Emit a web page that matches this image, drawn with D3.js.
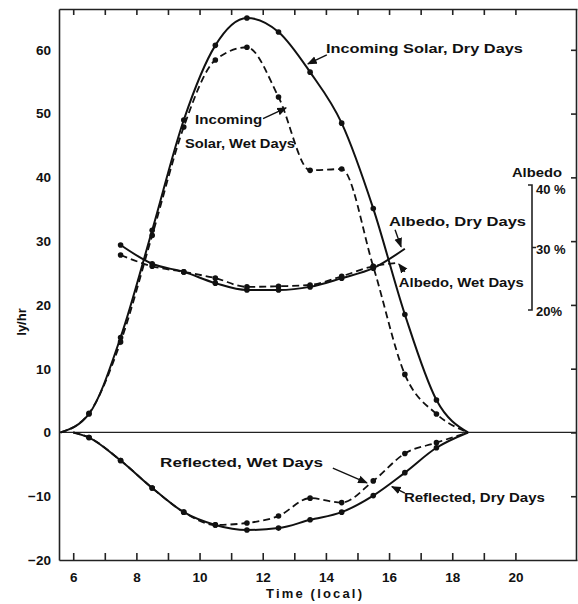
<!DOCTYPE html>
<html>
<head>
<meta charset="utf-8">
<script src="https://cdn.jsdelivr.net/npm/d3@7"></script>
<style>
  body { margin: 0; background: #fff; }
  text { font-family: "Liberation Sans", Arial, sans-serif; font-weight: bold; fill: #111; }
</style>
</head>
<body>
<svg width="578" height="604"></svg>
<script>
// hours (local time)
const hours = [6.5, 7.5, 8.5, 9.5, 10.5, 11.5, 12.5, 13.5, 14.5, 15.5, 16.5, 17.5];

// incoming solar, ly/hr
const incomingDry = [2.9, 14.9, 31.7, 49.0, 60.7, 65.0, 62.8, 56.5, 48.5, 35.1, 18.5, 5.1];
const incomingWet = [3.0, 14.2, 30.9, 47.9, 58.4, 60.4, 52.6, 41.1, 41.3, 26.0, 9.1, 2.9];

// reflected, ly/hr
const reflectedDry = [-0.8, -4.4, -8.7, -12.5, -14.5, -15.3, -15.0, -13.7, -12.5, -9.9, -6.3, -2.4];
const reflectedWet = [-0.8, -4.4, -8.7, -12.5, -14.5, -14.2, -13.1, -10.3, -11.0, -7.6, -3.3, -1.6];

// albedo, percent
const albedoHoursDry = [7.5, 8.5, 9.5, 10.5, 11.5, 12.5, 13.5, 14.5, 15.5, 16.5];
const albedoDry = [30.4, 27.4, 26.1, 24.3, 23.2, 23.2, 23.7, 25.1, 26.7, 29.8];
const albedoHoursWet = [7.5, 8.5, 9.5, 10.5, 11.5, 12.5, 13.5, 14.5, 15.5, 16.2];
const albedoWet = [28.8, 27.0, 26.1, 25.1, 23.7, 23.8, 24.0, 25.4, 27.0, 27.5];

const yTicks = [-20, -10, 0, 10, 20, 30, 40, 50, 60];
const xTicks = [6, 7, 8, 9, 10, 11, 12, 13, 14, 15, 16, 17, 18, 19, 20];
const albedoTicks = [20, 30, 40];

const svg = d3.select("svg");

const x = d3.scaleLinear().domain([5.55, 21.95]).range([59, 577]);
const y = d3.scaleLinear().domain([-20, 66.4]).range([560, 9]);
const a = d3.scaleLinear().domain([20, 40]).range([y(19.2), y(38.8)]);

// frame + axes
svg.append("g")
    .attr("transform", `translate(0,${y(-20)})`)
    .call(d3.axisBottom(x).tickValues(xTicks).tickSize(-7).tickSizeOuter(0)
        .tickPadding(12).tickFormat(d => d % 2 === 0 ? d : ""));
svg.append("g")
    .attr("transform", `translate(0,${y(66.4)})`)
    .call(d3.axisTop(x).tickValues(xTicks).tickSize(-6).tickSizeOuter(0).tickFormat(""));
svg.append("g")
    .attr("transform", `translate(${x(5.55)},0)`)
    .call(d3.axisLeft(y).tickValues(yTicks).tickSize(0).tickPadding(8));
svg.append("g")
    .attr("transform", `translate(${x(21.95) - 1},0)`)
    .call(d3.axisRight(y).tickValues(yTicks.slice(1)).tickSize(-5).tickSizeOuter(0).tickFormat(""));

svg.selectAll(".domain, .tick line").attr("stroke", "#222").attr("stroke-width", 1.6);
svg.selectAll(".tick text").style("font-size", "13.5px");

// zero line
svg.append("line")
    .attr("x1", x(5.55)).attr("x2", x(21.95))
    .attr("y1", y(0)).attr("y2", y(0))
    .attr("stroke", "#222").attr("stroke-width", 1.2);

// series
const line = d3.line().curve(d3.curveMonotoneX).x(d => x(d[0])).y(d => d[1]);

function series(xs, ys, scale, start, end) {
    let pts = xs.map((h, i) => [h, scale(ys[i])]);
    if (start) pts.unshift([start, scale(0)]);
    if (end) pts.push([end, scale(0)]);
    return pts;
}

const curves = [
    { pts: series(hours, incomingDry, y, 5.6, 18.5), dash: null, dots: hours.map((h, i) => [h, y(incomingDry[i])]) },
    { pts: series(hours, incomingWet, y, 5.6, 18.5), dash: "7,4", dots: hours.map((h, i) => [h, y(incomingWet[i])]) },
    { pts: series(hours, reflectedDry, y, 6.0, 18.5), dash: null, dots: hours.map((h, i) => [h, y(reflectedDry[i])]) },
    { pts: series(hours, reflectedWet, y, 6.0, 18.5), dash: "7,4", dots: hours.map((h, i) => [h, y(reflectedWet[i])]) },
    { pts: series(albedoHoursDry, albedoDry, a), dash: null,
      dots: albedoHoursDry.slice(0, -1).map((h, i) => [h, a(albedoDry[i])]) },
    { pts: series(albedoHoursWet, albedoWet, a), dash: "7,4",
      dots: albedoHoursWet.slice(0, -1).map((h, i) => [h, a(albedoWet[i])]) }
];

curves.forEach(c => {
    svg.append("path")
        .attr("d", line(c.pts))
        .attr("fill", "none")
        .attr("stroke", "#111")
        .attr("stroke-width", c.dash ? 1.8 : 2)
        .attr("stroke-dasharray", c.dash);
    svg.selectAll(null)
        .data(c.dots)
        .enter().append("circle")
        .attr("cx", d => x(d[0]))
        .attr("cy", d => d[1])
        .attr("r", 2.8)
        .attr("fill", "#111");
});

// albedo scale bracket
const ax = 532;
svg.append("path")
    .attr("d", `M${ax - 4},${a(40)}H${ax}V${a(20)}H${ax - 4}M${ax},${a(30)}H${ax + 4}`)
    .attr("fill", "none").attr("stroke", "#222").attr("stroke-width", 1.6);
svg.selectAll(".alb")
    .data(albedoTicks)
    .enter().append("text")
    .attr("x", ax + 4)
    .attr("y", d => a(d) + 6 + (d === 40 ? 3 : 0))
    .style("font-size", "13px")
    .text(d => d === 20 ? "20%" : d + " %");

// annotations (data coords)
const labels = [
    { t: "Incoming Solar, Dry Days", x: 14.0, y: 59.5, w: 197 },
    { t: "Incoming", x: 9.86, y: 48.4, w: 67 },
    { t: "Solar, Wet Days", x: 9.54, y: 44.6, w: 110 },
    { t: "Albedo, Dry Days", x: 16.0, y: 32.4, w: 137 },
    { t: "Albedo, Wet Days", x: 16.31, y: 22.8, w: 125 },
    { t: "Reflected, Wet Days", x: 8.75, y: -5.4, w: 163 },
    { t: "Reflected, Dry Days", x: 16.47, y: -10.9, w: 141 },
    { t: "Albedo", x: 19.89, y: 40.1, w: 50 }
];
svg.selectAll(".lab")
    .data(labels)
    .enter().append("text")
    .attr("x", d => x(d.x))
    .attr("y", d => y(d.y))
    .attr("textLength", d => d.w)
    .attr("lengthAdjust", "spacingAndGlyphs")
    .style("font-size", "13px")
    .text(d => d.t);

const arrows = [
    [[14.03, 59.2], [13.43, 57.8]],
    [[12.01, 49.2], [12.74, 50.9]],
    [[16.19, 31.8], [16.38, 29.1]],
    [[16.50, 25.2], [16.31, 26.4]],
    [[14.22, -5.6], [15.30, -7.9]],
    [[16.50, -9.5], [16.09, -8.5]]
];
svg.append("defs").append("marker")
    .attr("id", "ah").attr("viewBox", "0 0 10 10")
    .attr("refX", 9).attr("refY", 5)
    .attr("markerWidth", 7).attr("markerHeight", 7)
    .attr("orient", "auto")
    .append("path").attr("d", "M0,1L10,5L0,9z").attr("fill", "#111");
svg.selectAll(".arr")
    .data(arrows)
    .enter().append("line")
    .attr("x1", d => x(d[0][0])).attr("y1", d => y(d[0][1]))
    .attr("x2", d => x(d[1][0])).attr("y2", d => y(d[1][1]))
    .attr("stroke", "#111").attr("stroke-width", 1.4)
    .attr("marker-end", "url(#ah)");

// axis titles
svg.append("text")
    .attr("transform", "translate(26,322) rotate(-90)")
    .attr("text-anchor", "middle")
    .style("font-size", "13px")
    .text("ly/hr");
svg.append("text")
    .attr("x", 314).attr("y", 598)
    .attr("text-anchor", "middle")
    .style("font-size", "13px")
    .attr("textLength", 96)
    .text("Time (local)");
</script>
</body>
</html>
